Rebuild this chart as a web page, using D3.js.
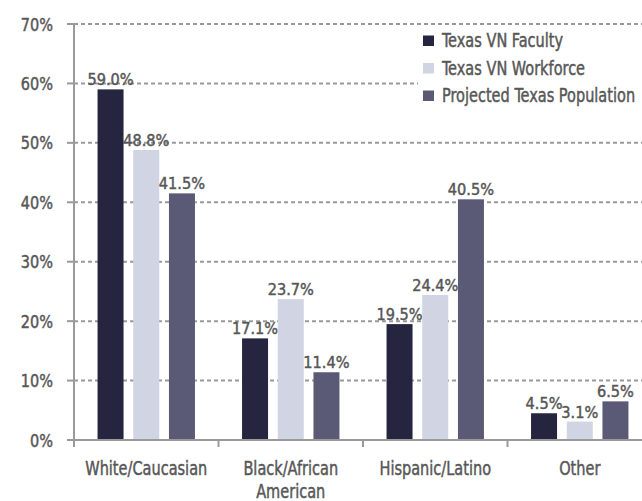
<head>
  <meta charset="utf-8">
  <script src="https://d3js.org/d3.v7.min.js"></script>
  <style>
    body { margin: 0; background: #fff; }
    text { font-family: "DejaVu Sans Condensed", "DejaVu Sans", sans-serif; fill: #575757; stroke: #575757; stroke-width: 0.45; }
    .grid line { stroke: #9a9a9a; stroke-width: 2; stroke-dasharray: 4,3; }
  </style>
</head>
<body>
  <script>

  // data
  var categories = ["White/Caucasian", "Black/African American", "Hispanic/Latino", "Other"];
  var series = ["Texas VN Faculty", "Texas VN Workforce", "Projected Texas Population"];
  var faculty = [59.0, 17.1, 19.5, 4.5];
  var workforce = [48.8, 23.7, 24.4, 3.1];
  var population = [41.5, 11.4, 40.5, 6.5];
  var yTicks = [0, 10, 20, 30, 40, 50, 60, 70];

  var colors = ["#25253f", "#d0d4e3", "#5a5a77"];
  var values = [faculty, workforce, population];

  var width = 642, height = 501;

  var svg = d3.select("body").append("svg")
      .attr("width", width)
      .attr("height", height);

  // narrow text: squeeze glyphs horizontally to look like a condensed face
  function label(parent, x, y, txt, size, sx, anchor) {
    return parent.append("text")
        .attr("transform", "translate(" + x + "," + y + ") scale(" + sx + ",1)")
        .attr("text-anchor", anchor || "start")
        .style("font-size", size + "px")
        .text(txt);
  }

  var x0 = d3.scaleBand()
      .domain(categories)
      .range([74, 652]);

  var groupW = 97.4;
  var x1 = d3.scaleBand()
      .domain(series)
      .range([0, groupW])
      .paddingInner(0.272);

  var y = d3.scaleLinear()
      .domain([0, 70])
      .range([440, 24]);

  // dashed gridlines
  svg.append("g")
      .attr("class", "grid")
      .selectAll("line")
      .data(yTicks.slice(1))
      .enter().append("line")
      .attr("x1", 74).attr("x2", width)
      .attr("y1", function(d) { return y(d); })
      .attr("y2", function(d) { return y(d); });

  // legend sits on a white box over the grid
  var legend = svg.append("g");
  legend.append("rect")
      .attr("x", 418).attr("y", 29)
      .attr("width", 230).attr("height", 80)
      .attr("fill", "#fff");
  series.forEach(function(s, i) {
    legend.append("rect")
        .attr("x", 423).attr("y", 35.5 + i * 27.5)
        .attr("width", 11).attr("height", 10.5)
        .attr("fill", colors[i]);
    label(legend, 442, 47 + i * 27.5, s, 19, 0.85);
  });

  // bars
  var offset = (x0.bandwidth() - groupW) / 2;
  series.forEach(function(s, i) {
    var g = svg.append("g");
    g.selectAll("rect")
        .data(values[i])
        .enter().append("rect")
        .attr("x", function(d, j) { return x0(categories[j]) + offset + x1(s); })
        .attr("width", x1.bandwidth())
        .attr("y", function(d) { return y(d); })
        .attr("height", function(d) { return y(0) - y(d); })
        .attr("fill", colors[i]);
    values[i].forEach(function(d, j) {
      label(g, x0(categories[j]) + offset + x1(s) + x1.bandwidth() / 2, y(d) - 4,
            d.toFixed(1) + "%", 16.5, 0.98, "middle");
    });
  });

  // y axis
  var ya = svg.append("g")
      .attr("transform", "translate(74,0)");
  ya.append("line")
      .attr("x1", 0).attr("x2", 0)
      .attr("y1", y(70)).attr("y2", y(0))
      .attr("stroke", "#9a9a9a").attr("stroke-width", 2);
  yTicks.forEach(function(t) {
    ya.append("line")
        .attr("x1", -7).attr("x2", 0)
        .attr("y1", y(t)).attr("y2", y(t))
        .attr("stroke", "#9a9a9a").attr("stroke-width", 2);
    label(ya, -21, y(t) + 6.5, t + "%", 17.5, 0.92, "end");
  });

  // x axis
  var xa = svg.append("g")
      .attr("transform", "translate(0," + y(0) + ")");
  xa.append("line")
      .attr("x1", 67).attr("x2", width)
      .attr("stroke", "#9a9a9a").attr("stroke-width", 2);
  xa.selectAll(".xtick")
      .data(categories)
      .enter().append("line")
      .attr("x1", function(d) { return x0(d); })
      .attr("x2", function(d) { return x0(d); })
      .attr("y1", 0).attr("y2", 7)
      .attr("stroke", "#9a9a9a").attr("stroke-width", 2);

  var labelLines = [["White/Caucasian"], ["Black/African", "American"], ["Hispanic/Latino"], ["Other"]];
  categories.forEach(function(c, i) {
    labelLines[i].forEach(function(line, k) {
      label(xa, x0(c) + x0.bandwidth() / 2, 34.5 + k * 23, line, 19, 0.85, "middle");
    });
  });

  </script>
</body>
